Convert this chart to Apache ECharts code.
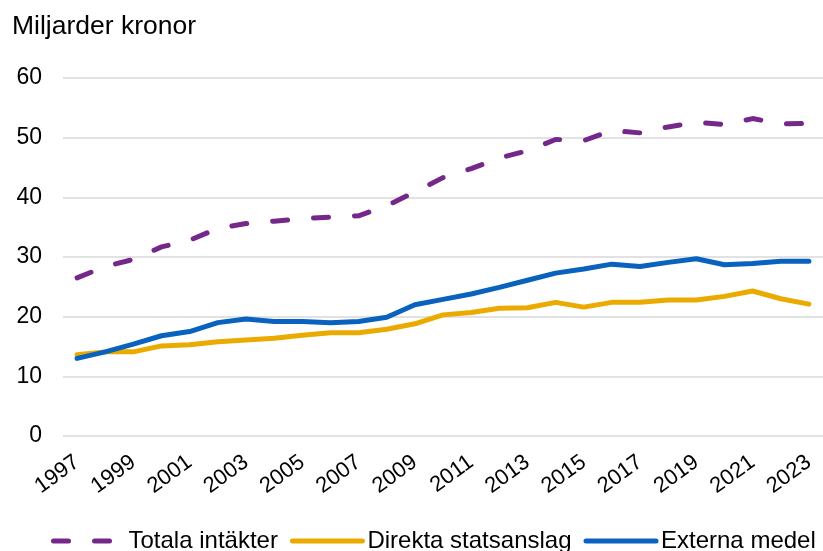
<!DOCTYPE html>
<html>
<head>
<meta charset="utf-8">
<script src="https://cdn.jsdelivr.net/npm/echarts@6/dist/echarts.min.js"></script>
<style>
html,body{margin:0;padding:0;background:#fff;}
#chart{width:823px;height:551px;}
</style>
</head>
<body>
<div id="chart"></div>
<script>
const years = ['1997','1998','1999','2000','2001','2002','2003','2004','2005','2006','2007','2008','2009','2010','2011','2012','2013','2014','2015','2016','2017','2018','2019','2020','2021','2022','2023'];
const totalaIntakter = [26.5,28.4,29.6,31.7,32.8,34.8,35.6,36.0,36.4,36.7,36.9,38.6,40.9,43.3,44.8,46.6,47.8,49.7,49.5,51.2,50.8,51.8,52.6,52.2,53.2,52.3,52.4];
const direktaStatsanslag = [13.6,14.1,14.1,15.1,15.3,15.8,16.1,16.4,16.9,17.3,17.3,17.9,18.8,20.3,20.7,21.4,21.5,22.4,21.6,22.4,22.4,22.8,22.8,23.4,24.3,23.0,22.1];
const externaMedel = [13.0,14.1,15.4,16.8,17.5,19.0,19.6,19.2,19.2,19.0,19.2,19.9,22.0,22.9,23.8,24.9,26.1,27.3,28.0,28.8,28.4,29.1,29.7,28.7,28.9,29.3,29.3];
const seriesNames = ['Totala intäkter','Direkta statsanslag','Externa medel'];
const yTitle = 'Miljarder kronor';

const font = 'Liberation Sans, Arial, sans-serif';
const chart = echarts.init(document.getElementById('chart'), null, {renderer:'canvas'});
chart.setOption({
  animation: false,
  backgroundColor: '#fff',
  title: {
    text: yTitle, left: 7, top: 8,
    textStyle: {fontFamily: font, fontSize: 26.5, fontWeight: 'normal', color: '#000'}
  },
  legend: {
    left: 51, top: 529, width: 772, padding: 0,
    itemWidth: 70, itemHeight: 2, itemGap: 12,
    itemStyle: {opacity: 0},
    lineStyle: {width: 5, cap: 'round'},
    textStyle: {fontFamily: font, fontSize: 24, color: '#000'},
    data: seriesNames
  },
  grid: {left: 63, right: 0, top: 78, bottom: 115, containLabel: false},
  xAxis: {
    type: 'category', data: years, boundaryGap: true,
    axisLine: {show: false}, axisTick: {show: false},
    axisLabel: {
      interval: 1, rotate: 36, margin: 24,
      fontFamily: font, fontSize: 22, color: '#000'
    }
  },
  yAxis: {
    type: 'value', min: 0, max: 60, interval: 10,
    axisLine: {show: false}, axisTick: {show: false},
    axisLabel: {margin: 21, fontFamily: font, fontSize: 23, color: '#000'},
    splitLine: {lineStyle: {color: '#d9d9d9', width: 1.5}}
  },
  series: [
    {name: seriesNames[0], type: 'line', data: totalaIntakter, symbol: 'none',
     lineStyle: {color: '#76288a', width: 5, type: [15, 26], cap: 'round'}, itemStyle: {color: '#76288a'}},
    {name: seriesNames[1], type: 'line', data: direktaStatsanslag, symbol: 'none',
     lineStyle: {color: '#ebaa00', width: 5, cap: 'round'}, itemStyle: {color: '#ebaa00'}},
    {name: seriesNames[2], type: 'line', data: externaMedel, symbol: 'none',
     lineStyle: {color: '#0862be', width: 5, cap: 'round'}, itemStyle: {color: '#0862be'}}
  ]
});
</script>
</body>
</html>
